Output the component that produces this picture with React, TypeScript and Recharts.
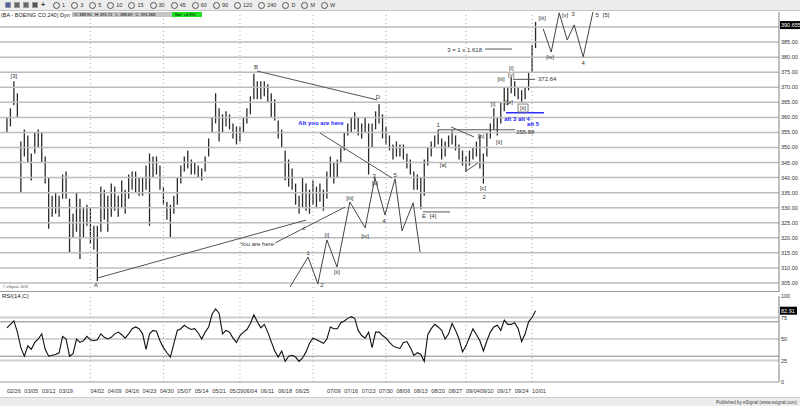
import { Bar, ComposedChart, Line, ReferenceLine, Scatter, XAxis, YAxis } from "recharts";

// daily high / low of the 240-min bars, trading-day index 0 = 02/26
const lo = [355,357,364,360,335,347,345,339,348,350, 345,338,323,327,328,327,333,333,315,320,
  322,313,320,324,318,316,305.6,322,326,322, 327,329,327,330,328,333,336,335,334,334,
  336,324,340,341,336,331,326,320,328,331, 338,342,343,341,341,340,339,342,347,355,
  358,352,355,357,356,353,351,352,355,358, 361,366,366,366,367,365,360,359,353,350,
  339,337,336,331,328,330,329,328,331,330, 332,329,333,340,338,340,345,349,354,355,
  356,354,353,355,341,350,356,358,353,351, 349,346,347,347,346,343,341,336,336,329.5,
  334,344,347,350,351,346,347,350,351,349, 346,344,342,344,346,347,343,338,347,353,
  356,354,358,362,364,368,367,366,365,366, 369,375,383];
const hi = [360,363,372,368,352,356,354,348,355,356, 355,347,340,334,335,334,341,342,333,328,
  335,333,330,331,330,324,324,337,336,334, 338,337,334,339,336,341,342,342,340,340,
  344,348,347,347,344,337,332,331,334,340, 344,347,349,346,345,344,343,347,353,360,
  368,363,361,362,361,358,357,357,360,363, 367,374.5,372,372,372,371,368,366,359,356,
  349,346,343,338,334,340,338,336,339,337, 338,336,342,347,345,346,350,355,358,360,
  361.7,360,358,360,358,358,362,364.4,361,357, 354,351,352,351,351,348,346,342,341,340,
  346,350,352,354,355.9,353,352,354,355.6,354, 351,349,347,349,350,352,354,348,355,358,
  363,360,365,370,370,373.3,372,370,369,370, 375,384,391.7];
const rsi = [63,67,71,58,40,30,42,38,46,50, 56,38,30,31,32,34,53,50,30,33,
  50,46,48,53,49,48,49,56,52,50, 52,56,58,55,51,56,62,64,62,56,
  38,56,60,59,48,40,34,29,45,60, 62,66,63,61,62,57,50,58,64,79,
  85,80,56,60,58,51,46,54,58,61, 68,78,70,63,67,58,47,36,29,36,
  24,30,31,29,24,28,35,45,51,49, 47,45,50,64,62,62,69,71,74,76,
  74,60,54,51,58,40,58,58,54,51, 46,42,40,39,46,47,40,31,34,32,
  24,55,62,67,64,60,50,56,68,60, 50,35,42,52,62,55,48,36,48,58,
  64,66,60,72,67,67,69,62,47,56, 70,75,82.91];

const dateIdx = [0,5,10,15,24,29,34,39,44,49,54,59,64,68,73,78,83,92,97,102,107,112,117,122,127,132,136,141,146,151];
const dateLabels = ["02/26","03/05","03/12","03/19","04/02","04/09","04/16","04/23","04/30","05/07","05/14","05/21","05/29","06/04","06/11","06/18","06/25","07/09","07/16","07/23","07/30","08/06","08/13","08/20","08/27","09/04","09/10","09/17","09/24","10/01"];
const monthStarts = [24, 45, 67, 88, 109, 132, 151];

const gridLevels = [305,310,315,320,325,330,335,340,345,350,355,360,365,370,375,380,385,390];
const lastPrice = 390.655;
const priceTicks = [305,310,315,320,325,330,335,340,345,350,355,360,365,370,375,380,385,lastPrice];
const lastRsi = 82.91;
const rsiTicks = [0,25,50,75,lastRsi,100];

const toolbarLabels = ["1","3","5","10","15","30","45","60","90","120","240","D","M","W"];

// drawn lines, [day index, price]
const trendLines = [
  [[26.2, 306.7], [86.0, 325.9]],
  [[77.1, 318.3], [97.2, 330.2]],
  [[71.9, 375.4], [106.4, 365.8]],
  [[90.0, 354.8], [110.7, 339.9]],
  [[124.0, 355.88], [146.1, 355.88]],
  [[119.6, 328.6], [127.4, 328.6]],
  [[127.7, 356.8], [134.3, 353.5]],
  [[131.7, 341.9], [135.5, 344.9]],
  [[137.5, 382.7], [145.2, 382.7]],
  [[145.5, 372.64], [151.9, 372.64]],
];
const altLine = [[143.5, 361.5], [154.4, 361.5]];
const countPath = [[81.4,303.7],[86.6,313.6],[89.4,304.7],[92.0,319.3],[94.9,310.3],[98.6,331.9],[103.0,323.3],[105.8,339.9],[108.7,327.6],[111.6,339.6],[113.6,322.3],[116.8,331.6],[118.8,315.3]];
const projPath = [[154.2,389.4],[156.5,381.7],[158.8,394.7],[161.1,385.7],[163.1,390.7],[165.7,380.1],[168.5,395]];

const waveLabels = [
  ["[3]",2.0,373.8],["B",71.6,376.8],["A",25.6,304.3],["D",106.7,366.8],["c",85.4,323.3],
  ["E",119.9,327.3],["[4]",122.5,327.3],["1",124.0,357.5],["[a]",125.4,344.2],["[b]",136.3,353.8],
  ["[c]",136.9,336.6],["2",137.2,333.6],["[i]",139.8,364.5],["[ii]",141.5,351.8],["[iii]",142.1,372.8],
  ["[i]",145.0,376.4],["[v]",145.0,374.1],["[iv]",144.4,365.1],
  ["1",86.6,315.0],["2",90.6,304.3],["[i]",92.0,321.0],["[ii]",94.9,308.7],["[iii]",98.6,333.2],
  ["[iv]",103.0,320.6],["3",105.6,340.5],["[v]",105.8,338.2],["4",108.4,325.6],["5",111.6,340.9],
  ["[iii]",153.9,393.0],["[iv]",156.2,380.1],["[v]",160.5,394.0],["3",162.8,394.4],["4",165.7,378.1],
  ["5",169.7,394.0],["[5]",172.3,394.0],["You are here",71.9,318.0],
];
const boxedLabels = [["[ii]",148.4,363.1]];
const blueNotes = [["Alt you are here",90.3,358.2],["alt 3 alt 4",146.7,359.5],["alt 5",151.3,357.8]];
const levelNotes = [["372.64",152.7,372.64],["355.88",146.4,355.0]];
const ratioNotes = [["3 = 1 x 1.618",136.6,382.4]];

const days = hi.map((h, i) => ({ t: i, range: [lo[i], h], rsi: rsi[i] }));
const toPts = (rows: any[]) => rows.map(([text, t, p]) => ({ text, t, p }));

const X_DOMAIN: [number, number] = [-2, 222];
const FONT = '"Liberation Sans", Arial, sans-serif';

const OhlcBar = (props: any) => {
  const { x, y, width, height } = props;
  const cx = x + width / 2;
  return <line x1={cx} x2={cx} y1={y} y2={y + height} stroke="#2a2a2a" strokeWidth={1.3} />;
};

const textShape = (fill: string, anchor: string, weight = "normal", dy = 2) => (props: any) => (
  <text x={props.cx} y={props.cy + dy} fill={fill} fontSize={6} fontWeight={weight} textAnchor={anchor} fontFamily={FONT}>
    {props.payload.text}
  </text>
);

const boxShape = (props: any) => (
  <g>
    <rect x={props.cx - 5} y={props.cy - 4} width={10} height={8} fill="#fff" stroke="#666" strokeWidth={0.8} />
    <text x={props.cx} y={props.cy + 2} fill="#333" fontSize={6} textAnchor="middle" fontFamily={FONT}>{props.payload.text}</text>
  </g>
);

const PriceTick = (props: any) => {
  const { x, y, payload } = props;
  if (payload.value === lastPrice) {
    return (
      <g>
        <rect x={x - 1} y={y - 4} width={21} height={8} fill="#000" />
        <text x={x} y={y + 2} fill="#fff" fontSize={5.5} fontFamily={FONT}>{lastPrice.toFixed(3)}</text>
      </g>
    );
  }
  return <text x={x} y={y + 2} fill="#333" fontSize={5.5} fontFamily={FONT}>{payload.value.toFixed(2)}</text>;
};

const RsiTick = (props: any) => {
  const { x, y, payload } = props;
  if (payload.value === lastRsi) {
    return (
      <g>
        <rect x={x - 1} y={y - 4} width={17} height={8} fill="#000" />
        <text x={x} y={y + 2} fill="#fff" fontSize={5.5} fontFamily={FONT}>{lastRsi.toFixed(2)}</text>
      </g>
    );
  }
  return <text x={x} y={y + 2} fill="#333" fontSize={5.5} fontFamily={FONT}>{payload.value}</text>;
};

const DateTick = (props: any) => {
  const { x, y, payload } = props;
  const k = dateIdx.indexOf(payload.value);
  return <text x={x} y={y + 9} fill="#333" fontSize={5.5} fontFamily={FONT}>{dateLabels[k]}</text>;
};

const seg = (a: number[], b: number[]) => [{ x: a[0], y: a[1] }, { x: b[0], y: b[1] }];

export default function App() {
  return (
    <div style={{ position: "relative", width: 800, height: 406, background: "#fff", overflow: "hidden", fontFamily: FONT }}>
      <style>{"body{margin:0}"}</style>

      {/* toolbar */}
      <div style={{ position: "absolute", left: 0, top: 0, width: 800, height: 10, background: "#ececec", borderBottom: "1px solid #c4c4c4", display: "flex", alignItems: "center", fontSize: 5.5, color: "#333" }}>
        <div style={{ display: "flex", gap: 3, marginLeft: 5, marginRight: 8 }}>
          {["#4a5fa8", "#666", "#666", "#555"].map((c, i) => (
            <div key={i} style={{ width: 6, height: 6, background: c, border: "1px solid #999", boxSizing: "border-box" }} />
          ))}
          <div style={{ fontSize: 7, lineHeight: "6px", fontWeight: "bold" }}>+</div>
        </div>
        {toolbarLabels.map((l) => (
          <div key={l} style={{ display: "flex", alignItems: "center", marginRight: 6 }}>
            <div style={{ width: 5, height: 5, borderRadius: "50%", border: "1px solid #555", marginRight: 2 }} />
            <span>{l}</span>
          </div>
        ))}
      </div>

      {/* title */}
      <div style={{ position: "absolute", left: 1, top: 12, fontSize: 5.5, lineHeight: "6px", color: "#222", whiteSpace: "nowrap", zIndex: 2 }}>
        (BA - BOEING CO,240) Dyn
      </div>
      <div style={{ position: "absolute", left: 72, top: 12, display: "flex", zIndex: 2 }}>
        <span style={{ background: "#c4c4c4", width: 100, height: 5, fontSize: 4, lineHeight: "5px", paddingLeft: 2, boxSizing: "border-box", whiteSpace: "nowrap" }}>
          O: 388.90 &nbsp; H: 391.71 &nbsp; L: 388.69 &nbsp; C: 391.368
        </span>
        <span style={{ background: "#1fe01f", width: 30, height: 5, fontSize: 4, lineHeight: "5px", paddingLeft: 3, boxSizing: "border-box", whiteSpace: "nowrap" }}>
          Net: +4.990
        </span>
      </div>

      {/* price panel */}
      <div style={{ position: "absolute", left: 0, top: 11 }}>
        <ComposedChart width={800} height={282} data={days} margin={{ top: 1, right: 0, bottom: 1, left: 0 }}>
          <XAxis dataKey="t" type="number" domain={X_DOMAIN} allowDataOverflow hide />
          <YAxis orientation="right" domain={[302, 395]} allowDataOverflow ticks={priceTicks} interval={0} width={21}
            tick={PriceTick} tickLine={false} tickSize={0} tickMargin={2} axisLine={{ stroke: "#808080" }} />
          {gridLevels.map((v) => <ReferenceLine key={v} y={v} stroke="#bcbcbc" strokeWidth={1.5} />)}
          {monthStarts.map((m) => <ReferenceLine key={m} x={m} stroke="#aaa" strokeDasharray="1 3" />)}
          <Bar dataKey="range" barSize={1} shape={OhlcBar} isAnimationActive={false} />
          {trendLines.map((l, i) => <ReferenceLine key={"t" + i} segment={seg(l[0], l[1])} stroke="#555" strokeWidth={1} />)}
          <ReferenceLine segment={seg(altLine[0], altLine[1])} stroke="#2b2bff" strokeWidth={1.5} />
          {countPath.slice(1).map((p, i) => <ReferenceLine key={"c" + i} segment={seg(countPath[i], p)} stroke="#444" strokeWidth={1} />)}
          {projPath.slice(1).map((p, i) => <ReferenceLine key={"p" + i} segment={seg(projPath[i], p)} stroke="#444" strokeWidth={1} />)}
          <Scatter data={toPts(waveLabels)} dataKey="p" shape={textShape("#333", "middle")} isAnimationActive={false} />
          <Scatter data={toPts(boxedLabels)} dataKey="p" shape={boxShape} isAnimationActive={false} />
          <Scatter data={toPts(blueNotes)} dataKey="p" shape={textShape("#2323ff", "middle", "bold")} isAnimationActive={false} />
          <Scatter data={toPts(levelNotes)} dataKey="p" shape={textShape("#333", "start", "normal", 2)} isAnimationActive={false} />
          <Scatter data={toPts(ratioNotes)} dataKey="p" shape={textShape("#333", "end")} isAnimationActive={false} />
        </ComposedChart>
      </div>
      <div style={{ position: "absolute", left: 3, top: 285, fontSize: 3.5, color: "#555" }}>© eSignal, 2018</div>

      {/* separator */}
      <div style={{ position: "absolute", left: 0, top: 291, width: 779, height: 0, borderTop: "1px solid #999" }} />

      {/* RSI panel */}
      <div style={{ position: "absolute", left: 0, top: 291 }}>
        <ComposedChart width={800} height={105} data={days} margin={{ top: 5, right: 0, bottom: 0, left: 0 }}>
          <XAxis dataKey="t" type="number" domain={X_DOMAIN} allowDataOverflow ticks={dateIdx} interval={0} height={14}
            tick={DateTick} tickLine={false} tickSize={0} axisLine={{ stroke: "#999" }} />
          <YAxis orientation="right" domain={[0, 100]} allowDataOverflow ticks={rsiTicks} interval={0} width={21}
            tick={RsiTick} tickLine={false} tickSize={0} tickMargin={2} axisLine={{ stroke: "#808080" }} />
          <ReferenceLine y={75} stroke="#cfcfcf" strokeWidth={2} />
          <ReferenceLine y={25} stroke="#cfcfcf" strokeWidth={2} />
          <ReferenceLine y={70} stroke="#888" />
          <ReferenceLine y={30} stroke="#888" />
          <ReferenceLine y={50} stroke="#aaa" />
          {monthStarts.map((m) => <ReferenceLine key={m} x={m} stroke="#aaa" strokeDasharray="1 3" />)}
          <Line dataKey="rsi" stroke="#111" strokeWidth={1.1} dot={false} isAnimationActive={false} />
        </ComposedChart>
      </div>
      <div style={{ position: "absolute", left: 2, top: 293, fontSize: 6, color: "#222" }}>RSI(14,C)</div>

      {/* status bar */}
      <div style={{ position: "absolute", left: 0, top: 397, width: 800, height: 9, background: "#ececec", borderTop: "1px solid #ccc", fontSize: 4.5, color: "#444", textAlign: "right" }}>
        <span style={{ marginRight: 3, lineHeight: "9px" }}>Published by eSignal (www.esignal.com)</span>
      </div>
    </div>
  );
}
